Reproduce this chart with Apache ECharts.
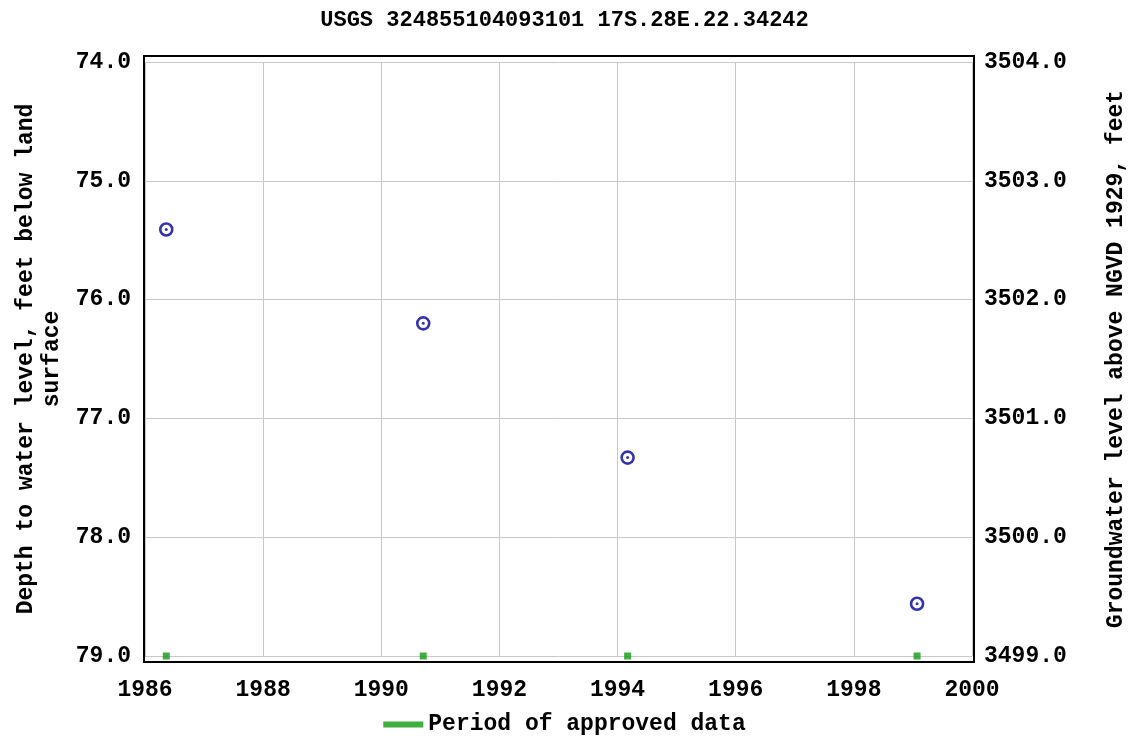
<!DOCTYPE html>
<html><head><meta charset="utf-8">
<script src="https://cdn.jsdelivr.net/npm/echarts@6/dist/echarts.min.js"></script>
<style>html,body{margin:0;padding:0;background:#fff}#c{width:1129px;height:740px}</style>
</head><body><div id="c"></div>
<script>
const titleText = 'USGS 324855104093101 17S.28E.22.34242';
const yearTicks = [1986, 1988, 1990, 1992, 1994, 1996, 1998, 2000];
const sampleYears = [1986.36, 1990.71, 1994.17, 1999.07];
const depthValues = [75.41, 76.20, 77.33, 78.56];
const approvedYears = [1986.36, 1990.71, 1994.17, 1999.07];
const landSurface = 3578.0;
const legendLabel = 'Period of approved data';
const leftName = 'Depth to water level, feet below land\nsurface';
const rightName = 'Groundwater level above NGVD 1929, feet';

const font = '"Liberation Mono", "DejaVu Sans Mono", monospace';
const chart = echarts.init(document.getElementById('c'));
const pts = sampleYears.map((x, i) => [x, depthValues[i]]);
const appr = approvedYears.map(x => [x, 79]);
const lbl = {fontFamily: font, fontWeight: 'bold', fontSize: 23, color: '#000'};
chart.setOption({
  animation: false,
  title: {text: titleText, left: 'center', top: 4, textStyle: Object.assign({}, lbl, {fontSize: 22})},
  grid: {left: 145, right: 157, top: 62, bottom: 84, outerBoundsMode: 'none', containLabel: false},
  legend: {bottom: -1, left: 'center', itemWidth: 40, itemHeight: 6, itemGap: 8,
    data: [{name: legendLabel, icon: 'rect'}],
    textStyle: Object.assign({}, lbl, {fontSize: 23})},
  xAxis: {type: 'value', min: 1986, max: 2000, interval: 2,
    axisLine: {show: false}, axisTick: {show: false},
    splitLine: {show: true, lineStyle: {color: '#c8c8c8', width: 1}},
    axisLabel: Object.assign({}, lbl, {margin: 23, formatter: v => String(v)})},
  yAxis: [
    {type: 'value', inverse: true, min: 74, max: 79, interval: 1,
     name: leftName, nameLocation: 'middle', nameGap: 76, nameRotate: 90,
     nameTextStyle: Object.assign({}, lbl, {fontSize: 23, lineHeight: 26}),
     axisLine: {show: false}, axisTick: {show: false},
     splitLine: {show: true, lineStyle: {color: '#c8c8c8', width: 1}},
     axisLabel: Object.assign({}, lbl, {margin: 14, formatter: v => v.toFixed(1)})},
    {type: 'value', min: landSurface - 79, max: landSurface - 74, interval: 1,
     name: rightName, nameLocation: 'middle', nameGap: 133, nameRotate: 90,
     nameTextStyle: Object.assign({}, lbl, {fontSize: 23}),
     axisLine: {show: false}, axisTick: {show: false}, splitLine: {show: false},
     axisLabel: Object.assign({}, lbl, {margin: 12, formatter: v => v.toFixed(1)})}
  ],
  graphic: [{type: 'rect', z: 10, shape: {x: 144, y: 56, width: 830, height: 606},
    style: {fill: 'none', stroke: '#000', lineWidth: 2}}],
  series: [
    {name: 'samples', type: 'scatter', data: pts, symbol: 'circle', symbolSize: 12,
     itemStyle: {color: 'rgba(0,0,0,0)', borderColor: '#000099', borderWidth: 2.6}, z: 5},
    {name: 'dots', type: 'scatter', data: pts, symbol: 'circle', symbolSize: 3,
     itemStyle: {color: '#000099'}, z: 6},
    {name: legendLabel, type: 'scatter', data: appr, symbol: 'rect', symbolSize: 7,
     itemStyle: {color: '#109a10'}, z: 7}
  ]
});
</script></body></html>
